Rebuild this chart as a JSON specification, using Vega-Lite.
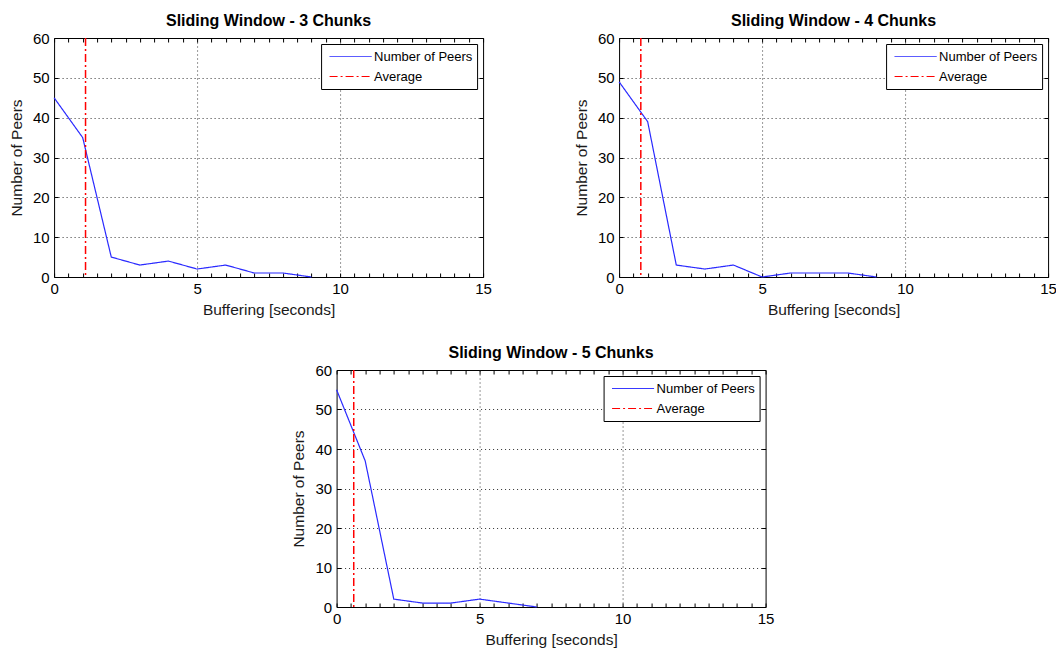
{
  "$schema": "https://vega.github.io/schema/vega-lite/v6.json",
  "background": "white",
  "padding": {"left": 8, "top": 12, "right": 5, "bottom": 5},
  "datasets": {
    "rows": [
      {"panel": 3, "series": "Number of Peers", "t": 0, "n": 45},
      {"panel": 3, "series": "Number of Peers", "t": 1, "n": 35},
      {"panel": 3, "series": "Number of Peers", "t": 2, "n": 5},
      {"panel": 3, "series": "Number of Peers", "t": 3, "n": 3},
      {"panel": 3, "series": "Number of Peers", "t": 4, "n": 4},
      {"panel": 3, "series": "Number of Peers", "t": 5, "n": 2},
      {"panel": 3, "series": "Number of Peers", "t": 6, "n": 3},
      {"panel": 3, "series": "Number of Peers", "t": 7, "n": 1},
      {"panel": 3, "series": "Number of Peers", "t": 8, "n": 1},
      {"panel": 3, "series": "Number of Peers", "t": 9, "n": 0},
      {"panel": 3, "series": "Average", "t": 1.1, "n": null},
      {"panel": 4, "series": "Number of Peers", "t": 0, "n": 49},
      {"panel": 4, "series": "Number of Peers", "t": 1, "n": 39},
      {"panel": 4, "series": "Number of Peers", "t": 2, "n": 3},
      {"panel": 4, "series": "Number of Peers", "t": 3, "n": 2},
      {"panel": 4, "series": "Number of Peers", "t": 4, "n": 3},
      {"panel": 4, "series": "Number of Peers", "t": 5, "n": 0},
      {"panel": 4, "series": "Number of Peers", "t": 6, "n": 1},
      {"panel": 4, "series": "Number of Peers", "t": 7, "n": 1},
      {"panel": 4, "series": "Number of Peers", "t": 8, "n": 1},
      {"panel": 4, "series": "Number of Peers", "t": 9, "n": 0},
      {"panel": 4, "series": "Average", "t": 0.76, "n": null},
      {"panel": 5, "series": "Number of Peers", "t": 0, "n": 55},
      {"panel": 5, "series": "Number of Peers", "t": 1, "n": 37},
      {"panel": 5, "series": "Number of Peers", "t": 2, "n": 2},
      {"panel": 5, "series": "Number of Peers", "t": 3, "n": 1},
      {"panel": 5, "series": "Number of Peers", "t": 4, "n": 1},
      {"panel": 5, "series": "Number of Peers", "t": 5, "n": 2},
      {"panel": 5, "series": "Number of Peers", "t": 6, "n": 1},
      {"panel": 5, "series": "Number of Peers", "t": 7, "n": 0},
      {"panel": 5, "series": "Average", "t": 0.6, "n": null}
    ]
  },
  "config": {
    "font": "Liberation Sans",
    "view": {"stroke": "black", "strokeWidth": 1},
    "title": {"fontSize": 16, "fontWeight": "bold", "color": "black", "offset": 2, "anchor": "middle"},
    "axis": {
      "domain": false,
      "tickColor": "black",
      "tickSize": -4,
      "labelColor": "black",
      "labelFontSize": 15,
      "labelFont": "Liberation Sans",
      "titleFontSize": 15.5,
      "titleFontWeight": "normal",
      "titleColor": "#1a1a1a",
      "titleFont": "Liberation Sans",
      "gridColor": "#333333",
      "gridDash": [1, 3],
      "labelOverlap": false,
      "labelFlush": false
    },
    "legend": {
      "orient": "top-right",
      "offset": 6,
      "strokeColor": "black",
      "fillColor": "white",
      "cornerRadius": 0,
      "padding": 4,
      "symbolType": "stroke",
      "symbolSize": 1764,
      "symbolOffset": 4,
      "clipHeight": 17,
      "symbolStrokeWidth": 1,
      "labelFontSize": 13,
      "labelColor": "black",
      "labelFont": "Liberation Sans",
      "labelOffset": 2,
      "rowPadding": 3
    }
  },
  "spacing": 26,
  "center": true,
  "resolve": {"legend": {"color": "independent", "strokeDash": "independent"}},
  "vconcat": [
    {
      "bounds": "flush",
      "spacing": 136,
      "resolve": {"legend": {"color": "independent", "strokeDash": "independent"}},
      "hconcat": [
        {
          "title": "Sliding Window - 3 Chunks",
          "width": 429, "height": 239,
          "data": {"name": "rows"},
          "transform": [{"filter": "datum.panel === 3"}],
          "resolve": {"axis": {"x": "independent", "y": "independent"}},
          "layer": [
            {
              "transform": [{"filter": "datum.series === 'Number of Peers'"}],
              "mark": {"type": "line", "strokeWidth": 1.2},
              "encoding": {
                "x": {"field": "t", "type": "quantitative", "scale": {"domain": [0, 15], "nice": false},
                  "axis": {"orient": "bottom", "title": "Buffering [seconds]", "values": [0,0.5,1,1.5,2,2.5,3,3.5,4,4.5,5,5.5,6,6.5,7,7.5,8,8.5,9,9.5,10,10.5,11,11.5,12,12.5,13,13.5,14,14.5,15],
                    "labelExpr": "datum.value % 5 === 0 ? format(datum.value, 'd') : ''", "labelPadding": 8, "titlePadding": 6,
                    "grid": true, "gridOpacity": {"condition": {"test": "datum.value % 5 === 0 && datum.value > 0 && datum.value < 15", "value": 1}, "value": 0}}},
                "y": {"field": "n", "type": "quantitative", "scale": {"domain": [0, 60], "nice": false},
                  "axis": {"orient": "left", "title": "Number of Peers", "values": [0,10,20,30,40,50,60], "labelPadding": 9, "titlePadding": 8,
                    "grid": true, "gridOpacity": {"condition": {"test": "datum.value > 0 && datum.value < 60", "value": 1}, "value": 0}}},
                "color": {"field": "series", "type": "nominal", "scale": {"domain": ["Number of Peers", "Average"], "range": ["#2a2aff", "#ff0000"]}, "legend": {"title": null}},
                "strokeDash": {"field": "series", "type": "nominal", "scale": {"domain": ["Number of Peers", "Average"], "range": [[1, 0], [8, 3, 2, 3]]}, "legend": {"title": null}}
              }
            },
            {
              "transform": [{"filter": "datum.series === 'Number of Peers'"}],
              "mark": {"type": "line", "opacity": 0},
              "encoding": {
                "x": {"field": "t", "type": "quantitative", "axis": {"orient": "top", "title": null, "labels": false, "grid": false, "values": [0,0.5,1,1.5,2,2.5,3,3.5,4,4.5,5,5.5,6,6.5,7,7.5,8,8.5,9,9.5,10,10.5,11,11.5,12,12.5,13,13.5,14,14.5,15]}},
                "y": {"field": "n", "type": "quantitative", "axis": {"orient": "right", "title": null, "labels": false, "grid": false, "values": [0,10,20,30,40,50,60]}}
              }
            },
            {
              "transform": [{"filter": "datum.series === 'Average'"}],
              "mark": {"type": "rule", "strokeWidth": 1.5},
              "encoding": {
                "x": {"field": "t", "type": "quantitative", "axis": null},
                "color": {"field": "series", "type": "nominal", "legend": {"title": null}},
                "strokeDash": {"field": "series", "type": "nominal", "legend": {"title": null}}
              }
            }
          ]
        },
        {
          "title": "Sliding Window - 4 Chunks",
          "width": 429, "height": 239,
          "data": {"name": "rows"},
          "transform": [{"filter": "datum.panel === 4"}],
          "resolve": {"axis": {"x": "independent", "y": "independent"}},
          "layer": [
            {
              "transform": [{"filter": "datum.series === 'Number of Peers'"}],
              "mark": {"type": "line", "strokeWidth": 1.2},
              "encoding": {
                "x": {"field": "t", "type": "quantitative", "scale": {"domain": [0, 15], "nice": false},
                  "axis": {"orient": "bottom", "title": "Buffering [seconds]", "values": [0,0.5,1,1.5,2,2.5,3,3.5,4,4.5,5,5.5,6,6.5,7,7.5,8,8.5,9,9.5,10,10.5,11,11.5,12,12.5,13,13.5,14,14.5,15],
                    "labelExpr": "datum.value % 5 === 0 ? format(datum.value, 'd') : ''", "labelPadding": 8, "titlePadding": 6,
                    "grid": true, "gridOpacity": {"condition": {"test": "datum.value % 5 === 0 && datum.value > 0 && datum.value < 15", "value": 1}, "value": 0}}},
                "y": {"field": "n", "type": "quantitative", "scale": {"domain": [0, 60], "nice": false},
                  "axis": {"orient": "left", "title": "Number of Peers", "values": [0,10,20,30,40,50,60], "labelPadding": 9, "titlePadding": 8,
                    "grid": true, "gridOpacity": {"condition": {"test": "datum.value > 0 && datum.value < 60", "value": 1}, "value": 0}}},
                "color": {"field": "series", "type": "nominal", "scale": {"domain": ["Number of Peers", "Average"], "range": ["#2a2aff", "#ff0000"]}, "legend": {"title": null}},
                "strokeDash": {"field": "series", "type": "nominal", "scale": {"domain": ["Number of Peers", "Average"], "range": [[1, 0], [8, 3, 2, 3]]}, "legend": {"title": null}}
              }
            },
            {
              "transform": [{"filter": "datum.series === 'Number of Peers'"}],
              "mark": {"type": "line", "opacity": 0},
              "encoding": {
                "x": {"field": "t", "type": "quantitative", "axis": {"orient": "top", "title": null, "labels": false, "grid": false, "values": [0,0.5,1,1.5,2,2.5,3,3.5,4,4.5,5,5.5,6,6.5,7,7.5,8,8.5,9,9.5,10,10.5,11,11.5,12,12.5,13,13.5,14,14.5,15]}},
                "y": {"field": "n", "type": "quantitative", "axis": {"orient": "right", "title": null, "labels": false, "grid": false, "values": [0,10,20,30,40,50,60]}}
              }
            },
            {
              "transform": [{"filter": "datum.series === 'Average'"}],
              "mark": {"type": "rule", "strokeWidth": 1.5},
              "encoding": {
                "x": {"field": "t", "type": "quantitative", "axis": null},
                "color": {"field": "series", "type": "nominal", "legend": {"title": null}},
                "strokeDash": {"field": "series", "type": "nominal", "legend": {"title": null}}
              }
            }
          ]
        }
      ]
    },
    {
      "title": "Sliding Window - 5 Chunks",
      "width": 429, "height": 237,
      "data": {"name": "rows"},
      "transform": [{"filter": "datum.panel === 5"}],
      "resolve": {"axis": {"x": "independent", "y": "independent"}},
      "layer": [
        {
          "transform": [{"filter": "datum.series === 'Number of Peers'"}],
          "mark": {"type": "line", "strokeWidth": 1.2},
          "encoding": {
            "x": {"field": "t", "type": "quantitative", "scale": {"domain": [0, 15], "nice": false},
              "axis": {"orient": "bottom", "title": "Buffering [seconds]", "values": [0,0.5,1,1.5,2,2.5,3,3.5,4,4.5,5,5.5,6,6.5,7,7.5,8,8.5,9,9.5,10,10.5,11,11.5,12,12.5,13,13.5,14,14.5,15],
                "labelExpr": "datum.value % 5 === 0 ? format(datum.value, 'd') : ''", "labelPadding": 8, "titlePadding": 6,
                "grid": true, "gridOpacity": {"condition": {"test": "datum.value % 5 === 0 && datum.value > 0 && datum.value < 15", "value": 1}, "value": 0}}},
            "y": {"field": "n", "type": "quantitative", "scale": {"domain": [0, 60], "nice": false},
              "axis": {"orient": "left", "title": "Number of Peers", "values": [0,10,20,30,40,50,60], "labelPadding": 9, "titlePadding": 8,
                "grid": true, "gridOpacity": {"condition": {"test": "datum.value > 0 && datum.value < 60", "value": 1}, "value": 0}}},
            "color": {"field": "series", "type": "nominal", "scale": {"domain": ["Number of Peers", "Average"], "range": ["#2a2aff", "#ff0000"]}, "legend": {"title": null}},
            "strokeDash": {"field": "series", "type": "nominal", "scale": {"domain": ["Number of Peers", "Average"], "range": [[1, 0], [8, 3, 2, 3]]}, "legend": {"title": null}}
          }
        },
        {
          "transform": [{"filter": "datum.series === 'Number of Peers'"}],
          "mark": {"type": "line", "opacity": 0},
          "encoding": {
            "x": {"field": "t", "type": "quantitative", "axis": {"orient": "top", "title": null, "labels": false, "grid": false, "values": [0,0.5,1,1.5,2,2.5,3,3.5,4,4.5,5,5.5,6,6.5,7,7.5,8,8.5,9,9.5,10,10.5,11,11.5,12,12.5,13,13.5,14,14.5,15]}},
            "y": {"field": "n", "type": "quantitative", "axis": {"orient": "right", "title": null, "labels": false, "grid": false, "values": [0,10,20,30,40,50,60]}}
          }
        },
        {
          "transform": [{"filter": "datum.series === 'Average'"}],
          "mark": {"type": "rule", "strokeWidth": 1.5},
          "encoding": {
            "x": {"field": "t", "type": "quantitative", "axis": null},
            "color": {"field": "series", "type": "nominal", "legend": {"title": null}},
            "strokeDash": {"field": "series", "type": "nominal", "legend": {"title": null}}
          }
        }
      ]
    }
  ]
}
